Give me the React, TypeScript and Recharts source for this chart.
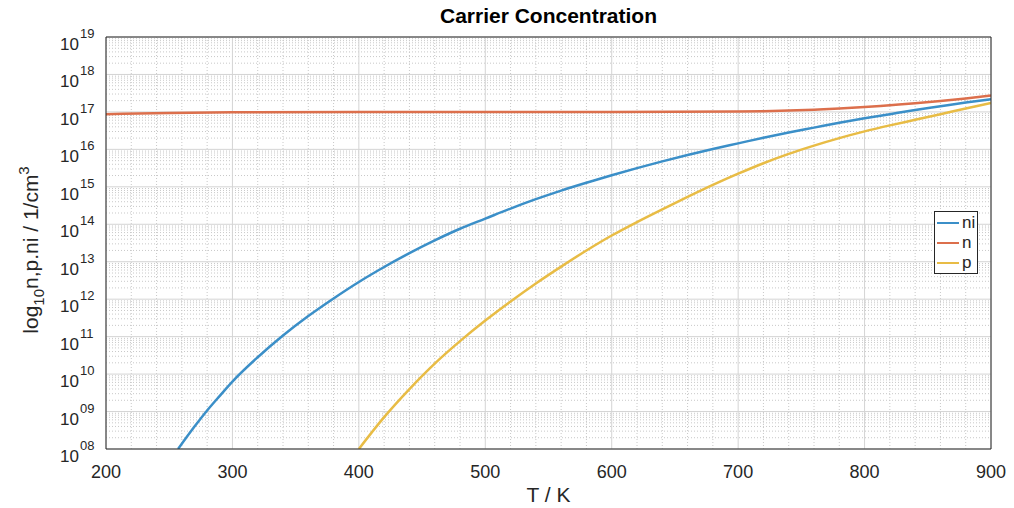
import {
  LineChart,
  Line,
  XAxis,
  YAxis,
  CartesianGrid,
} from "recharts";

// temperatures (K) and log10 of concentrations (1/cm^3)
const niT = [257, 270, 280, 290, 300, 320, 340, 360, 380, 400, 420, 440, 460, 480, 500, 520, 540, 560, 580, 600, 620, 640, 660, 680, 700, 720, 740, 760, 780, 800, 820, 840, 860, 880, 900];
const niExp = [8.0, 8.6, 9.03, 9.42, 9.8, 10.45, 11.03, 11.55, 12.02, 12.46, 12.86, 13.23, 13.57, 13.88, 14.15, 14.42, 14.67, 14.9, 15.11, 15.31, 15.5, 15.68, 15.85, 16.01, 16.16, 16.31, 16.45, 16.58, 16.71, 16.83, 16.94, 17.05, 17.15, 17.25, 17.34];

const nT = [200, 250, 300, 400, 500, 600, 700, 720, 740, 760, 780, 800, 820, 840, 860, 880, 900];
const nExp = [16.94, 16.97, 16.99, 17.0, 17.0, 17.0, 17.01, 17.02, 17.035, 17.06, 17.09, 17.13, 17.18, 17.23, 17.29, 17.36, 17.44];

const pT = [400, 420, 440, 460, 480, 500, 520, 540, 560, 580, 600, 620, 640, 660, 680, 700, 720, 740, 760, 780, 800, 820, 840, 860, 880, 900];
const pExp = [8.0, 8.85, 9.6, 10.28, 10.88, 11.43, 11.94, 12.42, 12.87, 13.3, 13.7, 14.06, 14.4, 14.73, 15.05, 15.35, 15.63, 15.88, 16.1, 16.3, 16.48, 16.64, 16.79, 16.94, 17.09, 17.24];

const xTicks = [200, 300, 400, 500, 600, 700, 800, 900];
const xMinor = [220, 240, 260, 280, 320, 340, 360, 380, 420, 440, 460, 480, 520, 540, 560, 580, 620, 640, 660, 680, 720, 740, 760, 780, 820, 840, 860, 880];
const decades = [8, 9, 10, 11, 12, 13, 14, 15, 16, 17, 18, 19];

const yTicks = decades.map((d) => Math.pow(10, d));
const yMinor: number[] = [];
decades.slice(0, -1).forEach((d) => {
  for (let m = 2; m <= 9; m++) yMinor.push(m * Math.pow(10, d));
});

const toRows = (ts: number[], es: number[]) =>
  ts.map((t, i) => ({ T: t, v: Math.pow(10, es[i]) }));

const niData = toRows(niT, niExp);
const nData = toRows(nT, nExp);
const pData = toRows(pT, pExp);

const FONT = "Liberation Sans, Arial, sans-serif";
const INK = "#262626";
const BLUE = "#3b8fc8";
const ORANGE = "#dc6f4c";
const YELLOW = "#e8bc45";

const PowerTick = (props: any) => {
  const { y, payload } = props;
  const exp = Math.round(Math.log10(payload.value));
  const s = exp < 10 ? "0" + exp : String(exp);
  return (
    <g fontFamily={FONT} fill={INK}>
      <text x={79} y={y + 13} textAnchor="end" fontSize={17}>
        10
      </text>
      <text x={80} y={y + 1} textAnchor="start" fontSize={13}>
        {s}
      </text>
    </g>
  );
};

const NoLabel = () => <g />;

const YLabel = () => (
  <text
    x={38}
    y={250}
    transform="rotate(-90 38 250)"
    textAnchor="middle"
    fontSize={21}
    fill={INK}
    fontFamily={FONT}
  >
    log
    <tspan dy={6} fontSize={15}>10</tspan>
    <tspan dy={-6}>n,p.ni / 1/cm</tspan>
    <tspan dy={-9} fontSize={15}>3</tspan>
  </text>
);

const legendItems = [
  { name: "ni", color: BLUE },
  { name: "n", color: ORANGE },
  { name: "p", color: YELLOW },
];

export default function App() {
  return (
    <div style={{ position: "absolute", left: 0, top: 0, width: 1014, height: 508, background: "#fff" }}>
      <div
        style={{
          position: "absolute",
          left: 106,
          width: 885,
          top: 4,
          textAlign: "center",
          fontFamily: FONT,
          fontWeight: "bold",
          fontSize: 21,
          color: "#000",
        }}
      >
        Carrier Concentration
      </div>
      <LineChart
        width={1014}
        height={508}
        margin={{ top: 37, right: 23, bottom: 29, left: 0 }}
        style={{ fontFamily: FONT }}
      >
        <CartesianGrid
          xAxisId="bottom"
          yAxisId="left"
          horizontalValues={yMinor}
          verticalValues={xMinor}
          stroke="#c8c8c8"
          strokeDasharray="1 2"
        />
        <CartesianGrid
          xAxisId="bottom"
          yAxisId="left"
          horizontalValues={yTicks}
          verticalValues={xTicks}
          stroke="#d4d4d4"
        />
        <XAxis
          xAxisId="bottom"
          dataKey="T"
          type="number"
          domain={[200, 900]}
          ticks={xTicks}
          interval={0}
          allowDataOverflow
          height={30}
          tickLine={false}
          tickMargin={10}
          axisLine={{ stroke: INK }}
          tick={{ fill: INK, fontSize: 18 }}
          label={{ value: "T / K", position: "insideBottom", offset: -23, fill: INK, fontSize: 21 }}
        />
        <XAxis
          xAxisId="bottomTicks"
          dataKey="T"
          type="number"
          domain={[200, 900]}
          ticks={xTicks}
          interval={0}
          mirror
          axisLine={false}
          tickSize={6}
          tickLine={{ stroke: INK }}
          tick={NoLabel}
        />
        <XAxis
          xAxisId="top"
          orientation="top"
          dataKey="T"
          type="number"
          domain={[200, 900]}
          ticks={xTicks}
          interval={0}
          mirror
          axisLine={{ stroke: INK }}
          tickSize={6}
          tickLine={{ stroke: INK }}
          tick={NoLabel}
        />
        <YAxis
          yAxisId="left"
          scale="log"
          domain={[1e8, 1e19]}
          ticks={yTicks}
          interval={0}
          allowDataOverflow
          width={106}
          tickLine={false}
          axisLine={{ stroke: INK }}
          tick={PowerTick}
          label={<YLabel />}
        />
        <YAxis
          yAxisId="leftMajor"
          scale="log"
          domain={[1e8, 1e19]}
          ticks={yTicks}
          interval={0}
          mirror
          axisLine={false}
          tickSize={7}
          tickLine={{ stroke: INK }}
          tick={NoLabel}
        />
        <YAxis
          yAxisId="leftMinor"
          scale="log"
          domain={[1e8, 1e19]}
          ticks={yMinor}
          interval={0}
          mirror
          axisLine={false}
          tickSize={4}
          tickLine={{ stroke: INK }}
          tick={NoLabel}
        />
        <YAxis
          yAxisId="rightMajor"
          orientation="right"
          scale="log"
          domain={[1e8, 1e19]}
          ticks={yTicks}
          interval={0}
          mirror
          axisLine={{ stroke: INK }}
          tickSize={7}
          tickLine={{ stroke: INK }}
          tick={NoLabel}
        />
        <YAxis
          yAxisId="rightMinor"
          orientation="right"
          scale="log"
          domain={[1e8, 1e19]}
          ticks={yMinor}
          interval={0}
          mirror
          axisLine={false}
          tickSize={4}
          tickLine={{ stroke: INK }}
          tick={NoLabel}
        />
        <Line
          xAxisId="bottom"
          yAxisId="left"
          data={niData}
          dataKey="v"
          name="ni"
          stroke={BLUE}
          strokeWidth={2.5}
          dot={false}
          type="monotone"
          isAnimationActive={false}
        />
        <Line
          xAxisId="bottom"
          yAxisId="left"
          data={nData}
          dataKey="v"
          name="n"
          stroke={ORANGE}
          strokeWidth={2.5}
          dot={false}
          type="monotone"
          isAnimationActive={false}
        />
        <Line
          xAxisId="bottom"
          yAxisId="left"
          data={pData}
          dataKey="v"
          name="p"
          stroke={YELLOW}
          strokeWidth={2.5}
          dot={false}
          type="monotone"
          isAnimationActive={false}
        />
      </LineChart>
      <div
        style={{
          position: "absolute",
          left: 934,
          top: 211,
          width: 44,
          height: 63,
          border: "1px solid #262626",
          background: "#fff",
          fontFamily: FONT,
          fontSize: 17,
          color: INK,
          paddingTop: 1,
          boxSizing: "border-box",
        }}
      >
        {legendItems.map((it) => (
          <div key={it.name} style={{ display: "flex", alignItems: "center", height: 20 }}>
            <span style={{ display: "inline-block", width: 22, height: 2, background: it.color, marginLeft: 2, marginRight: 3 }} />
            <span>{it.name}</span>
          </div>
        ))}
      </div>
    </div>
  );
}
